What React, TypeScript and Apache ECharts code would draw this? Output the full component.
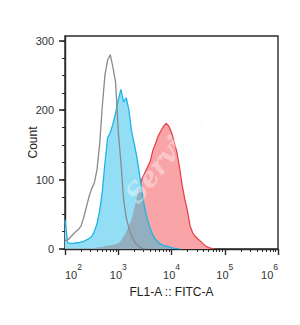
import React, { useEffect, useRef } from "react";
import * as echarts from "echarts";

// x positions of histogram bins, in log10(FITC-A) units
const logBins = [
  2.0, 2.05, 2.1, 2.15, 2.2, 2.25, 2.3, 2.35, 2.4, 2.45,
  2.5, 2.55, 2.6, 2.65, 2.7, 2.75, 2.8, 2.85, 2.9, 2.95,
  3.0, 3.05, 3.1, 3.15, 3.2, 3.25, 3.3, 3.35, 3.4, 3.45,
  3.5, 3.55, 3.6, 3.65, 3.7, 3.75, 3.8, 3.85, 3.9, 3.95,
  4.0, 4.05, 4.1, 4.15, 4.2, 4.25, 4.3, 4.35, 4.4, 4.45,
  4.5, 4.55, 4.6, 4.65, 4.7, 4.75, 4.8,
];

// gray outline (control)
const grayCounts = [
  12, 13, 17, 21, 25, 28, 33, 45, 60, 75,
  87, 95, 114, 150, 205, 251, 272, 280, 262, 240,
  170, 125, 72, 45, 30, 19, 11, 6, 3, 1,
  0,
];

// cyan filled
const cyanCounts = [
  42, 9, 8, 8, 9, 9, 10, 11, 13, 15,
  18, 25, 36, 55, 82, 124, 160, 168, 180, 196,
  215, 230, 212, 218, 200, 170, 152, 132, 108, 80,
  58, 42, 30, 20, 14, 10, 7, 5, 4, 3,
  2, 1, 1, 0,
];

// red filled
const redCounts = [
  1, 1, 1, 1, 1, 1, 1, 1, 1, 1,
  1, 1, 2, 3, 3, 4, 5, 5, 6, 7,
  8, 12, 18, 25, 33, 43, 58, 75, 90, 102,
  110, 118, 126, 142, 152, 163, 170, 177, 181, 177,
  168, 155, 140, 118, 92, 72, 55, 33, 23, 18,
  14, 11, 7, 4, 2, 1, 0,
];

const xMajorTicks = [2, 3, 4, 5, 6];
const xMinorMultipliers = [2, 3, 4, 5, 6, 7, 8, 9];
const xMinorDecades = [2, 3, 4, 5];
const yLabelValues = [0, 100, 200, 300];
const yMinorTicks = [0, 25, 50, 75, 100, 125, 150, 175, 200, 225, 250, 275, 300];

const xAxisTitle = "FL1-A :: FITC-A";
const yAxisTitle = "Count";
const watermark = "Servicebio";

const toPairs = (vals: number[]) => vals.map((v, i) => [logBins[i], v]);

export default function App() {
  const ref = useRef<HTMLDivElement>(null);
  useEffect(() => {
    if (!ref.current) return;
    const chart = echarts.init(ref.current, null, { renderer: "svg" });
    const xMinor: number[] = [];
    xMinorDecades.forEach((d) =>
      xMinorMultipliers.forEach((m) => xMinor.push(d + Math.log10(m)))
    );
    const overlap = cyanCounts.map((c, i) =>
      i < redCounts.length ? Math.min(c, redCounts[i]) : 0
    );
    const font = "Liberation Sans, Arial, sans-serif";
    const common = {
      type: "line",
      showSymbol: false,
      symbol: "none",
      xAxisIndex: 0,
      yAxisIndex: 0,
      silent: true,
    };
    chart.setOption({
      animation: false,
      backgroundColor: "#ffffff",
      grid: {
        left: 65,
        top: 36,
        width: 213,
        height: 213,
        show: true,
        borderColor: "#2a2a2a",
        borderWidth: 1.4,
        backgroundColor: "transparent",
      },
      xAxis: [
        {
          type: "value",
          min: 2,
          max: 6,
          position: "bottom",
          name: xAxisTitle,
          nameLocation: "middle",
          nameGap: 37,
          nameMoveOverlap: false,
          nameTextStyle: { fontFamily: font, fontSize: 12, color: "#222" },
          axisLine: { show: true, lineStyle: { color: "#2a2a2a", width: 1.4 } },
          axisTick: {
            show: true,
            length: 6,
            customValues: xMajorTicks,
            lineStyle: { color: "#2a2a2a", width: 1.4 },
          },
          splitLine: { show: false },
          axisLabel: {
            show: true,
            customValues: xMajorTicks,
            margin: 13,
            alignMinLabel: "left",
            alignMaxLabel: "right",
            formatter: (v: number) => `{b|10}{s|${Math.round(v)}}`,
            rich: {
              b: { fontFamily: font, fontSize: 11, color: "#333" },
              s: { fontFamily: font, fontSize: 8.5, color: "#333", padding: [0, 0, 16, 0] },
            },
          },
        },
        {
          type: "value",
          min: 2,
          max: 6,
          position: "bottom",
          axisLine: { show: false },
          axisTick: {
            show: true,
            length: 3,
            customValues: xMinor,
            lineStyle: { color: "#2a2a2a", width: 1 },
          },
          axisLabel: { show: false },
          splitLine: { show: false },
        },
      ],
      yAxis: [
        {
          type: "value",
          min: 0,
          max: 307,
          position: "left",
          name: yAxisTitle,
          nameLocation: "middle",
          nameGap: 26,
          nameMoveOverlap: false,
          nameTextStyle: { fontFamily: font, fontSize: 12, color: "#222" },
          axisLine: { show: true, lineStyle: { color: "#2a2a2a", width: 1.4 } },
          axisTick: {
            show: true,
            length: 6,
            customValues: yLabelValues,
            lineStyle: { color: "#2a2a2a", width: 1.6 },
          },
          axisLabel: {
            show: true,
            customValues: yLabelValues,
            margin: 11,
            fontFamily: font,
            fontSize: 11,
            color: "#333",
          },
          splitLine: { show: false },
        },
        {
          type: "value",
          min: 0,
          max: 307,
          position: "left",
          axisLine: { show: false },
          axisTick: {
            show: true,
            length: 3,
            customValues: yMinorTicks,
            lineStyle: { color: "#2a2a2a", width: 1 },
          },
          axisLabel: { show: false },
          splitLine: { show: false },
        },
      ],
      series: [
        {
          ...common,
          name: "red",
          data: toPairs(redCounts),
          lineStyle: { color: "#e63a44", width: 1.2 },
          areaStyle: { color: "#f9a5a8", opacity: 1 },
          z: 2,
        },
        {
          ...common,
          name: "cyan-fill",
          data: toPairs(cyanCounts),
          lineStyle: { width: 0, opacity: 0 },
          areaStyle: { color: "#93def5", opacity: 1 },
          z: 3,
        },
        {
          ...common,
          name: "overlap",
          data: toPairs(overlap),
          lineStyle: { width: 0, opacity: 0 },
          areaStyle: { color: "#93a8b9", opacity: 0.9 },
          z: 4,
        },
        {
          ...common,
          name: "cyan-line",
          data: toPairs(cyanCounts),
          lineStyle: { color: "#1db5e6", width: 1.3 },
          z: 5,
        },
        {
          ...common,
          name: "gray",
          data: toPairs(grayCounts),
          lineStyle: { color: "#8a8a8a", width: 1.3 },
          z: 6,
        },
      ],
      graphic: [
        {
          type: "text",
          x: 180,
          y: 138,
          rotation: Math.PI * 0.285,
          z: 100,
          style: {
            text: watermark,
            font: "italic bold 27px 'DejaVu Serif', serif",
            fill: "rgba(255,255,255,0.4)",
            stroke: "rgba(210,210,210,0.12)",
            lineWidth: 0.5,
            align: "center",
            verticalAlign: "middle",
          },
        },
      ],
    });
    return () => chart.dispose();
  }, []);
  return (
    <div
      ref={ref}
      style={{ position: "fixed", left: 0, top: 0, width: 300, height: 325, background: "#fff" }}
    />
  );
}
